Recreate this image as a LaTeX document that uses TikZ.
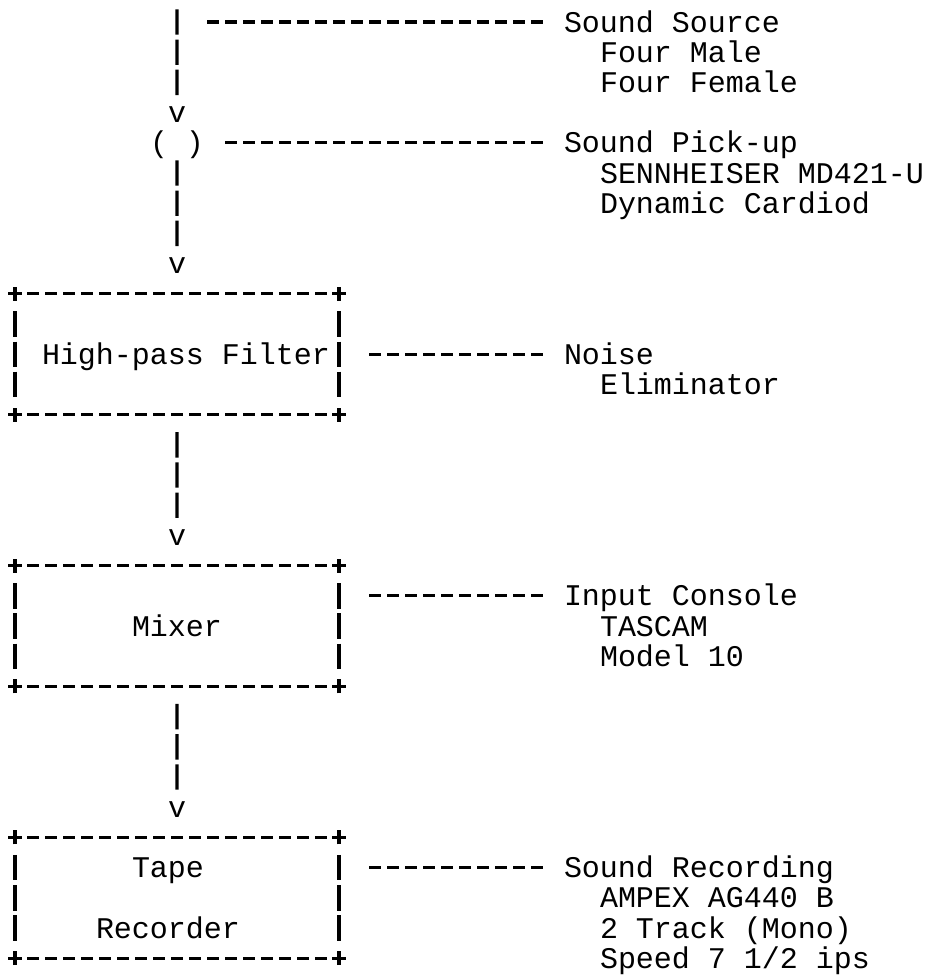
\documentclass[tikz,border=0pt]{standalone}
\usepackage{fontspec}
\newfontfamily\asciimono{Liberation Mono}
\newcommand\asciiplus[1]{\draw[plusmark] ([xshift=-7pt]#1) -- ([xshift=7pt]#1) ([yshift=-7pt]#1) -- ([yshift=7pt]#1);}
\newcommand\asciibox[1]{%
  \draw[hdash, shorten <=12.06pt, shorten >=12.06pt] (#1.north west) -- (#1.north east);
  \draw[hdash, shorten <=12.06pt, shorten >=12.06pt] (#1.south west) -- (#1.south east);
  \draw[vbar, shorten <=17.5pt, shorten >=17.5pt] (#1.north west) -- (#1.south west);
  \draw[vbar, shorten <=17.5pt, shorten >=17.5pt] (#1.north east) -- (#1.south east);
  \asciiplus{#1.north west}\asciiplus{#1.north east}
  \asciiplus{#1.south west}\asciiplus{#1.south east}}
\begin{document}
\begin{tikzpicture}[x=18pt,y=-30.2pt,
  txt/.style={font=\asciimono\fontsize{29.99pt}{30.2pt}\selectfont, inner sep=0pt, outer sep=0pt,
    text height=25.1pt, text depth=5.1pt, anchor=west},
  vbar/.style={line width=3.2pt, dash pattern=on 25.4pt off 4.8pt},
  hdash/.style={line width=3.2pt, dash pattern=on 12pt off 6pt},
  plusmark/.style={line width=3.2pt},
  boxnode/.style={minimum width=324pt, minimum height=120.8pt, inner sep=0pt, outer sep=0pt}]
\useasboundingbox (0pt,0pt) rectangle (926pt,-975pt);
\begin{scope}[shift={(15pt,-22pt)}]
% labels on the right
\node[txt] (ss)  at (30.5,0) {Sound Source};
\node[txt] (fm)  at (32.5,1) {Four Male};
\node[txt] (ff)  at (32.5,2) {Four Female};
\node[txt] (sp)  at (30.5,4) {Sound Pick-up};
\node[txt] (sen) at (32.5,5) {SENNHEISER MD421-U};
\node[txt] (dyn) at (32.5,6) {Dynamic Cardiod};
\node[txt] (noise) at (30.5,11) {Noise};
\node[txt] (elim)  at (32.5,12) {Eliminator};
\node[txt] (ic)  at (30.5,19) {Input Console};
\node[txt] (tas) at (32.5,20) {TASCAM};
\node[txt] (mod) at (32.5,21) {Model 10};
\node[txt] (sr)  at (30.5,28) {Sound Recording};
\node[txt] (amp) at (32.5,29) {AMPEX AG440 B};
\node[txt] (trk) at (32.5,30) {2 Track (Mono)};
\node[txt] (spd) at (32.5,31) {Speed 7 1/2 ips};
% chain
\coordinate (top) at (9,-0.42);
\coordinate (srcdash) at (10.67,0);
\node[txt] (v1) at (8.5,3) {v};
\node[txt] (mic) at (7.5,4) {( )};
\node[txt] (v2) at (8.5,8) {v};
\node[boxnode] (hpf) at (9,11) {};
\node[txt] (hpft) at (1.5,11) {High-pass Filter};
\node[txt] (v3) at (8.5,17) {v};
\node[boxnode] (mix) at (9,20) {};
\node[txt] (mixt) at (6.5,20) {Mixer};
\node[txt] (v4) at (8.5,26) {v};
\node[boxnode] (tape) at (9,29) {};
\node[txt] (tapet) at (6.5,28) {Tape};
\node[txt] (rect) at (4.5,30) {Recorder};
\asciibox{hpf}
\asciibox{mix}
\asciibox{tape}
% vertical connectors
\draw[vbar, shorten >=2.4pt] (top) -- (v1.north);
\draw[vbar, shorten <=2.4pt, shorten >=2.4pt] (mic.south) -- (v2.north);
\draw[vbar, shorten <=17.5pt, shorten >=2.4pt] (hpf.south) -- (v3.north);
\draw[vbar, shorten <=17.5pt, shorten >=2.4pt] (mix.south) -- (v4.north);
% label connectors
\draw[hdash, shorten >=21.06pt] (srcdash) -- (ss.west);
\draw[hdash, shorten <=21.06pt, shorten >=21.06pt] (mic.east) -- (sp.west);
\draw[hdash, shorten <=30.06pt, shorten >=21.06pt] (hpf.east) -- (noise.west);
\draw[hdash, shorten <=30.06pt, shorten >=21.06pt] (mix.east |- ic.west) -- (ic.west);
\draw[hdash, shorten <=30.06pt, shorten >=21.06pt] (tape.east |- sr.west) -- (sr.west);
\end{scope}
\end{tikzpicture}
\end{document}
